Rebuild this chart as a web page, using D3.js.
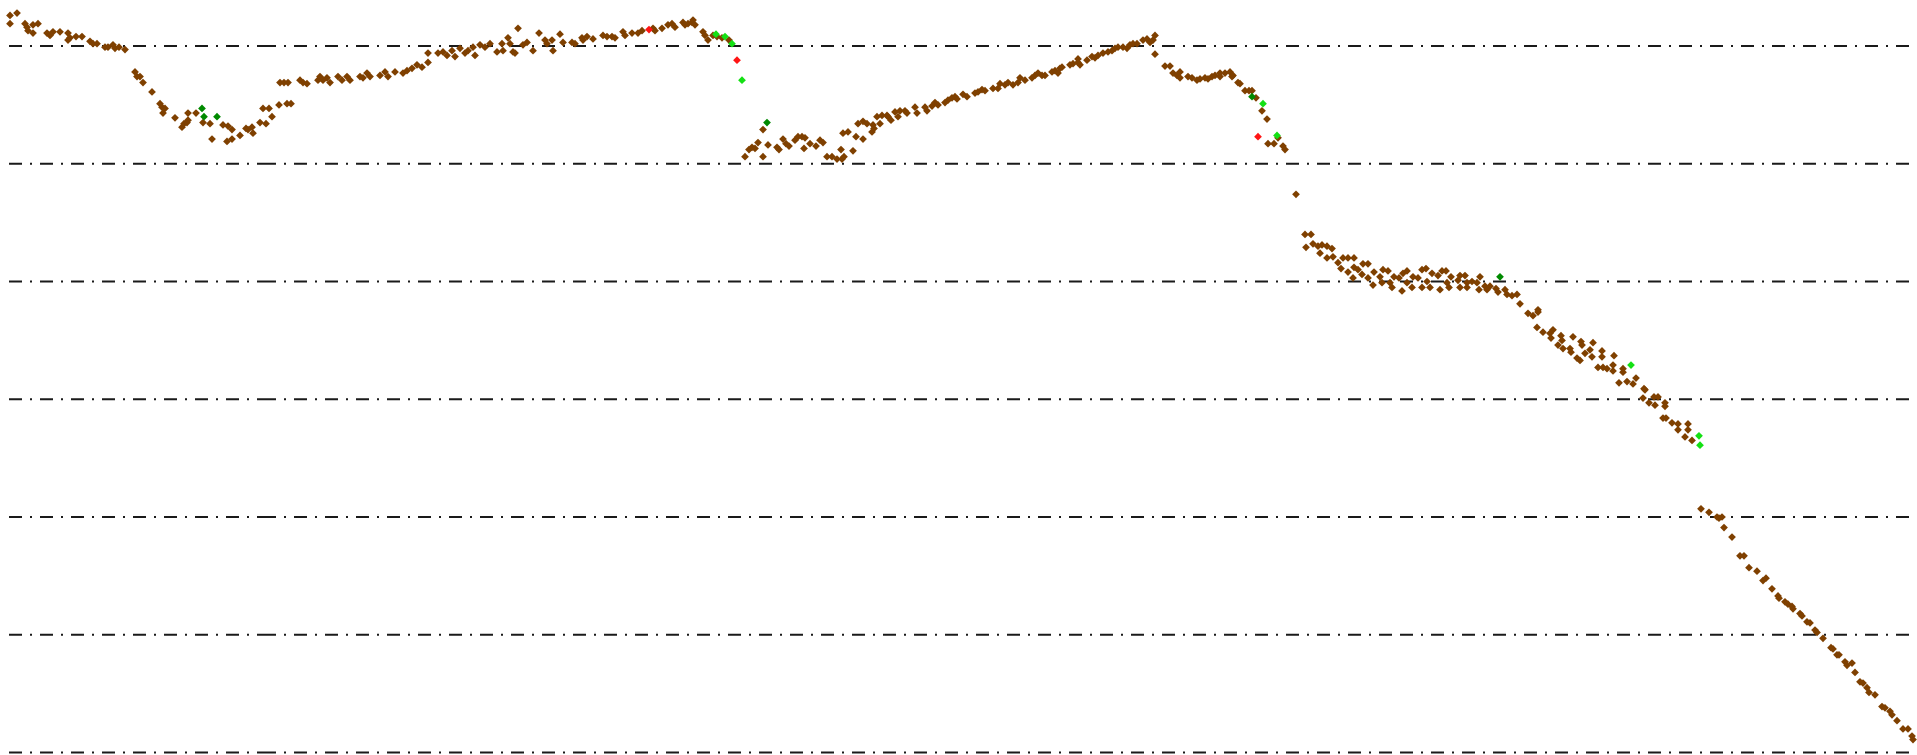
<!DOCTYPE html>
<html>
<head>
<meta charset="utf-8">
<script src="https://cdn.jsdelivr.net/npm/d3@7"></script>
<style>
  html, body { margin: 0; padding: 0; background: #fff; overflow: hidden; }
</style>
</head>
<body>
<div id="chart"></div>
<script>
// grid levels (no labels shown on the chart)
const gridLevels = [0, 10, 20, 30, 40, 50, 60];
// places where the dash pattern of the grid lines restarts
const gridBreaks = [0.9, 26.3, 140.0, 191.7];

// [time, value]
const brownPoints = [
  [1.0,62.6],[1.7,62.8],[1.0,61.9],[2.5,61.9],[2.7,61.6],[2.8,61.3],[3.3,61.8],[3.8,61.9],[3.3,61.1],
  [4.7,61.1],[5.0,60.9],[5.3,61.2],[6.0,61.2],[6.8,61.1],[7.0,60.7],[6.8,60.5],[7.6,60.8],[8.2,60.8],
  [9.0,60.4],[9.3,60.2],[9.7,60.2],[10.5,59.9],[10.8,59.9],[11.3,60.1],[11.5,59.8],[11.9,59.9],[12.5,59.7],
  [13.5,57.8],[13.7,57.4],[14.0,57.4],[14.3,56.9],[15.2,56.1],[16.0,55.1],[16.2,54.8],[16.5,54.7],[16.3,54.3],
  [17.5,53.9],[18.2,53.1],[18.4,53.4],[18.7,53.5],[18.8,53.7],[18.8,54.3],[19.6,54.3],[20.3,53.5],[21.0,53.4],
  [21.2,52.1],[22.3,53.3],[22.8,53.2],[23.2,52.9],[22.7,51.9],[23.2,52.1],[24.0,52.4],[24.6,53.0],[24.8,52.9],
  [25.2,53.1],[25.3,52.6],[26.0,53.5],[26.6,53.4],[26.3,54.7],[26.9,54.7],[27.2,54.0],[27.9,55.0],[28.7,55.1],
  [29.1,55.1],[28.0,56.9],[28.4,56.9],[28.8,56.9],[30.0,57.1],[30.3,56.9],[30.7,56.8],[31.8,57.1],[32.0,57.4],
  [32.3,57.1],[32.7,57.3],[33.0,56.9],[33.8,57.4],[34.2,57.1],[34.7,57.4],[35.0,57.1],[36.0,57.4],[36.3,57.3],
  [36.7,57.7],[37.0,57.4],[38.0,57.5],[38.5,57.8],[38.8,57.4],[39.5,57.8],[40.3,57.7],[40.7,57.9],[41.2,58.1],
  [41.7,58.4],[42.2,58.2],[42.8,58.6],[42.8,59.4],[43.8,59.4],[44.3,59.5],[44.7,59.2],[45.2,59.6],[45.5,59.1],
  [46.0,59.8],[46.5,59.4],[46.8,59.6],[47.3,59.9],[47.5,59.2],[48.0,60.1],[48.5,59.9],[49.0,60.2],[49.7,59.5],
  [50.2,60.2],[50.3,59.6],[50.8,60.7],[51.0,60.2],[51.3,59.5],[51.5,59.4],[51.8,61.5],[52.3,60.1],[52.7,60.3],
  [53.3,59.6],[53.9,61.1],[54.5,60.5],[54.7,60.2],[55.2,60.5],[55.3,59.6],[56.0,61.0],[56.3,60.3],[57.2,60.3],
  [57.5,60.2],[58.2,60.7],[58.3,60.5],[58.7,60.8],[59.3,60.6],[60.3,60.9],[60.7,60.8],[61.2,60.8],[61.5,60.7],
  [62.3,61.2],[62.5,60.9],[63.2,61.1],[63.8,61.1],[64.2,61.3],[65.3,61.5],[65.5,61.3],[66.2,61.5],[66.8,61.8],
  [67.2,61.9],[67.5,61.6],[68.3,62.0],[68.5,61.8],[68.8,61.9],[69.2,62.0],[69.5,61.8],[69.3,62.2],[70.3,61.2],
  [70.5,60.9],[70.8,60.5],[71.3,60.9],[71.7,60.8],[72.2,60.7],[72.9,60.5],
  [74.5,50.6],[74.9,51.2],[75.2,51.4],[75.5,51.3],[75.8,51.8],[76.3,52.9],[76.3,50.6],[76.8,51.6],[77.7,51.4],
  [77.9,51.2],[78.3,52.1],[78.6,51.7],[78.9,51.5],[79.5,52.0],[79.8,52.3],[80.2,52.3],[80.5,52.2],[80.4,51.3],
  [81.0,51.7],[81.6,51.5],[82.0,52.0],[82.3,51.8],[82.7,50.6],[83.2,50.6],[83.7,50.4],[84.2,50.4],[84.4,50.6],
  [84.1,51.2],[84.3,52.6],[84.8,52.7],[85.3,51.1],[85.6,52.3],[85.8,53.4],[86.3,53.6],[86.7,53.4],[86.3,52.1],
  [87.3,53.3],[87.4,53.0],[87.2,52.7],[87.7,54.0],[88.2,54.1],[88.7,54.1],[88.8,54.0],[88.0,53.4],[89.1,53.7],
  [89.5,54.4],[90.0,54.5],[90.5,54.5],[89.8,54.0],[90.7,54.3],[91.5,54.8],[91.7,54.3],[92.5,54.8],[92.7,54.5],
  [93.2,54.9],[93.5,55.2],[93.8,55.0],[94.5,55.2],[94.8,55.4],[95.2,55.6],[95.5,55.7],[95.7,55.5],[96.3,55.9],
  [96.7,55.7],[97.5,56.0],[97.8,56.1],[98.2,56.3],[98.5,56.2],[99.3,56.4],[99.8,56.4],[100.0,56.8],[100.5,56.7],
  [100.8,56.9],[101.3,56.7],[101.8,56.9],[102.0,57.3],[102.5,57.1],[103.2,57.3],[103.5,57.5],[103.8,57.7],
  [104.2,57.5],[104.5,57.5],[105.2,57.8],[105.5,57.9],[105.8,57.7],[106.0,58.1],[106.2,58.2],[107.0,58.4],
  [107.3,58.5],[107.8,58.6],[108.0,58.4],[107.8,58.9],[108.7,58.8],[109.2,59.1],[109.5,59.0],[109.8,59.2],
  [110.3,59.4],[110.8,59.5],[111.2,59.6],[111.5,59.8],[111.8,59.9],[112.3,59.9],[112.7,59.8],[113.0,60.1],
  [113.3,60.2],[113.7,60.2],[114.3,60.5],[114.7,60.6],[115.0,60.3],[115.3,60.5],[115.5,60.9],[115.5,59.3],
  [116.5,58.3],[117.0,58.3],[117.3,57.7],[117.7,57.5],[118.0,57.8],[118.0,57.3],[118.8,57.4],[119.2,57.3],
  [119.7,57.1],[120.0,57.2],[120.5,57.3],[120.8,57.2],[121.2,57.4],[121.5,57.5],[122.0,57.4],[122.0,57.7],
  [122.5,57.7],[123.0,57.8],[123.2,57.4],[123.3,57.5],[123.8,56.9],[124.0,56.8],[124.5,56.2],[124.9,56.2],
  [125.2,56.2],[125.6,55.6],[126.2,54.5],[126.7,53.8],[126.8,51.7],[127.4,51.7],[127.8,52.2],[128.3,51.5],
  [128.5,51.2],[129.6,47.4],
  [130.5,44.0],[131.1,44.0],[130.6,42.9],[131.3,43.2],[131.8,43.0],[132.2,43.1],[132.0,42.4],[132.7,43.0],
  [133.2,42.8],[132.7,42.0],[133.3,42.1],[133.8,41.6],[134.1,41.1],[134.3,42.0],[134.8,42.0],[135.4,42.0],
  [134.8,40.8],[135.4,41.2],[135.3,40.3],[135.8,41.0],[136.2,40.6],[136.3,41.5],[136.8,41.5],[136.8,40.3],
  [137.3,39.7],[137.4,40.8],[138.0,40.4],[138.2,39.9],[138.3,41.0],[138.8,40.9],[139.0,39.9],[139.2,39.5],
  [139.4,40.4],[139.9,40.3],[140.2,39.2],[140.3,40.7],[140.7,40.9],[140.7,39.9],[141.2,39.5],[141.3,40.4],
  [141.8,40.3],[142.2,41.0],[142.6,41.1],[142.2,39.5],[142.7,40.0],[143.0,39.5],[143.2,40.7],[143.8,40.5],
  [144.0,39.3],[144.2,40.9],[144.6,40.9],[144.7,39.9],[144.9,39.5],[145.1,40.4],[145.8,40.1],[146.0,40.5],
  [146.5,40.5],[146.0,39.5],[146.7,39.9],[146.7,39.5],[147.2,40.0],[147.7,39.9],[147.9,39.3],[148.0,40.4],
  [148.5,39.6],[148.7,39.3],[149.0,39.6],[149.6,39.4],[149.8,39.1],[150.5,39.3],[150.7,38.9],[151.2,38.8],
  [151.7,38.9],[152.0,38.1],[152.8,37.3],[153.3,37.1],[153.8,37.6],[153.8,37.4],[153.7,36.1],[154.3,35.7],
  [155.0,35.6],[155.3,35.9],[155.1,35.2],[156.1,35.4],[156.2,35.0],[155.8,34.6],[156.3,34.3],[157.0,34.3],
  [157.3,35.3],[157.1,34.0],[157.7,33.5],[158.0,33.3],[158.1,34.9],[158.2,34.6],[158.5,33.9],[159.0,34.2],
  [159.3,34.8],[159.2,33.6],[160.2,34.1],[160.2,33.6],[159.8,32.7],[160.3,32.7],[160.7,32.6],[161.3,32.9],
  [161.3,32.4],[161.4,33.7],[161.9,31.4],[162.7,31.5],[162.3,32.6],[162.3,32.3],[163.3,31.3],[163.6,31.8],
  [164.4,30.9],[164.5,30.8],[164.3,30.1],[164.9,29.7],[165.4,30.2],[165.5,29.5],[165.8,30.2],[166.5,29.7],
  [166.5,29.4],[166.3,28.4],[166.6,28.4],[167.2,28.0],[167.8,27.9],[167.8,27.4],[168.8,27.9],[168.8,27.4],
  [168.5,26.8],[169.2,26.5],
  [170.1,20.7],[170.9,20.4],[171.7,20.0],[171.9,19.9],[172.2,20.0],[172.4,19.1],[173.2,18.3],[174.0,16.7],
  [174.4,16.7],[174.9,15.7],[175.7,15.4],[176.3,14.6],[176.6,14.8],[177.2,13.9],[177.8,13.3],[177.9,13.1],
  [178.5,12.8],[178.8,12.6],[179.2,12.4],[179.3,12.2],[180.0,11.8],[180.2,11.6],[180.7,11.1],[181.0,11.0],
  [181.5,10.4],[181.7,10.2],[182.3,9.7],[183.1,8.9],[183.3,8.8],[183.7,8.3],[183.9,8.3],[184.5,7.7],
  [184.7,7.4],[185.2,7.6],[185.5,6.8],[186.0,6.0],[186.3,5.9],[186.7,5.5],[186.9,5.1],[187.5,4.9],
  [188.2,3.9],[188.5,3.8],[189.0,3.5],[189.2,3.2],[189.7,2.7],[190.3,2.0],[190.8,2.0],[191.2,1.4],[191.3,1.1]
];

const limePoints = [
  [71.6,61.0],[72.5,60.8],[73.2,60.2],[74.2,57.1],[126.3,55.1],[127.7,52.4],[163.1,32.9],[169.9,26.9],[170.0,26.1]
];

const darkGreenPoints = [
  [20.2,54.7],[20.4,54.0],[21.7,54.0],[76.7,53.5],[125.2,55.7],[150.0,40.4]
];

const redPoints = [
  [64.9,61.4],[73.7,58.8],[125.8,52.3]
];

const width = 1917;
const height = 755;

const svg = d3.select('#chart')
  .append('svg')
  .attr('width', width)
  .attr('height', height);

const x = d3.scaleLinear()
  .domain([0, 191.7])
  .range([0, width]);

const y = d3.scaleLinear()
  .domain([0, 60])
  .range([752.5, 46]);

// dash-dot grid lines, drawn in pieces so the dash pattern restarts
const segs = [];
gridLevels.forEach(level => {
  for (let i = 0; i < gridBreaks.length - 1; i++) {
    segs.push({ level, x0: gridBreaks[i], x1: gridBreaks[i + 1] });
  }
});

svg.append('g')
  .selectAll('line')
  .data(segs)
  .enter().append('line')
  .attr('x1', d => x(d.x0))
  .attr('x2', d => x(d.x1))
  .attr('y1', d => y(d.level))
  .attr('y2', d => y(d.level))
  .attr('stroke', '#1a1a1a')
  .attr('stroke-width', 1.8)
  .attr('stroke-dasharray', '13,8,2,8');

// square diamond marker
const diamond = {
  draw(context, size) {
    const r = Math.sqrt(size / 2);
    context.moveTo(0, -r);
    context.lineTo(r, 0);
    context.lineTo(0, r);
    context.lineTo(-r, 0);
    context.closePath();
  }
};
const symbol = d3.symbol().type(diamond).size(30);

function drawPoints(data, color) {
  svg.append('g')
    .selectAll('path')
    .data(data)
    .enter().append('path')
    .attr('d', symbol)
    .attr('transform', d => `translate(${x(d[0])},${y(d[1])})`)
    .attr('fill', color);
}

drawPoints(brownPoints, '#7f4000');
drawPoints(limePoints, '#14e014');
drawPoints(darkGreenPoints, '#008a00');
drawPoints(redPoints, '#ff1414');
</script>
</body>
</html>
